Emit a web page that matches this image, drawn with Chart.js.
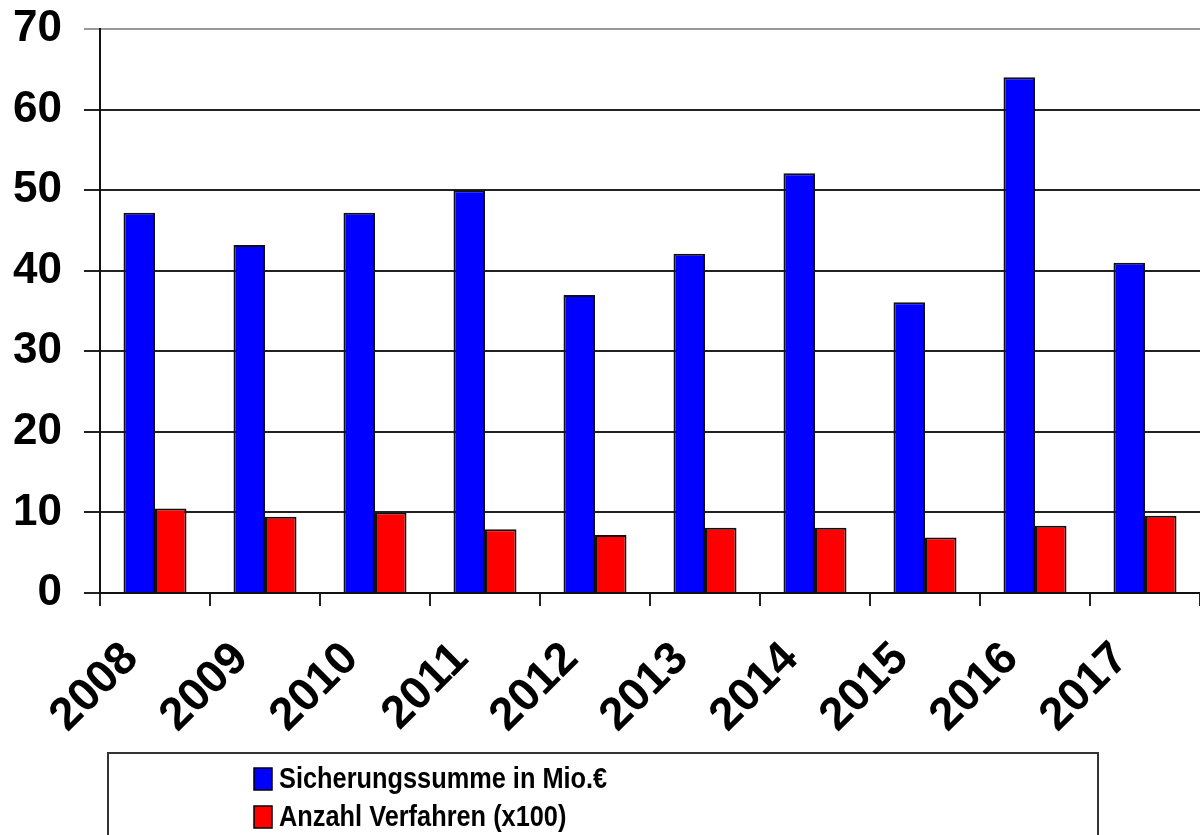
<!DOCTYPE html>
<html>
<head>
<meta charset="utf-8">
<title>Sicherungssumme und Verfahren</title>
<script src="https://cdn.jsdelivr.net/npm/chart.js@4.4.0/dist/chart.umd.min.js"></script>
<style>
  html, body { margin: 0; padding: 0; background: #fff; }
  #wrap { width: 1200px; height: 835px; position: relative; }
</style>
</head>
<body>
<div id="wrap"><canvas id="chart"></canvas></div>
<script>
// data
var years = ['2008', '2009', '2010', '2011', '2012', '2013', '2014', '2015', '2016', '2017'];
var sicherungssumme = [47.2, 43.2, 47.2, 50, 37, 42.1, 52.1, 36.1, 64, 41];
var verfahren = [10.5, 9.45, 10, 7.9, 7.2, 8.1, 8.1, 6.9, 8.35, 9.6];
var seriesLabels = ['Sicherungssumme in Mio.\u20ac', 'Anzahl Verfahren (x100)'];
var yMin = 0, yMax = 70, yStep = 10;

var fontFamily = '"Liberation Sans", Arial, sans-serif';

// legend box drawn by hand: Chart.js would put both items in one row
var boxLegend = {
  id: 'boxLegend',
  afterDraw: function (chart) {
    var ctx = chart.ctx;
    ctx.save();
    ctx.strokeStyle = '#333';
    ctx.lineWidth = 2;
    ctx.strokeRect(108, 753, 990, 120);
    ctx.font = 'bold 30px ' + fontFamily;
    ctx.textBaseline = 'middle';
    chart.data.datasets.forEach(function (ds, i) {
      var cy = 779 + i * 38;
      ctx.fillStyle = ds.backgroundColor;
      ctx.fillRect(254, cy - 11, 18, 22);
      ctx.strokeStyle = '#000';
      ctx.lineWidth = 1.5;
      ctx.strokeRect(254, cy - 11, 18, 22);
      ctx.fillStyle = '#000';
      var w = ctx.measureText(ds.label).width * 0.845;
      ctx.fillText(ds.label, 279, cy + 1, w);
    });
    ctx.restore();
  }
};

const ctx = document.getElementById('chart').getContext('2d');
const barChart = new Chart(ctx, {
  type: 'bar',
  data: {
    labels: years,
    datasets: [{
      label: seriesLabels[0],
      data: sicherungssumme,
      backgroundColor: '#0000ff',
      borderColor: '#111',
      borderWidth: 2,
      borderSkipped: 'bottom'
    },
    {
      label: seriesLabels[1],
      data: verfahren,
      backgroundColor: '#ff0000',
      borderColor: '#111',
      borderWidth: 2,
      borderSkipped: 'bottom'
    }]
  },
  options: {
    responsive: true,
    maintainAspectRatio: false,
    animation: false,
    categoryPercentage: 0.573,
    barPercentage: 1,
    layout: {
      padding: { top: 29, right: -2, bottom: 100, left: 0 }
    },
    plugins: {
      legend: { display: false },
      tooltip: { enabled: false }
    },
    scales: {
      x: {
        afterFit: function (s) {
          s.height = 142;
          s.paddingLeft = 0;
          s.paddingRight = 0;
        },
        grid: {
          offset: true,
          drawOnChartArea: false,
          drawTicks: true,
          tickLength: 13,
          color: '#222',
          lineWidth: 2
        },
        border: { display: true, color: '#111', width: 2 },
        ticks: {
          minRotation: 45,
          maxRotation: 45,
          padding: 26,
          labelOffset: -24,
          color: '#000',
          font: { family: fontFamily, size: 46, weight: 'bold' }
        }
      },
      y: {
        min: yMin,
        max: yMax,
        afterFit: function (s) {
          s.width = 100;
          s.paddingTop = 0;
          s.paddingBottom = 0;
        },
        grid: {
          color: function (c) { return c.tick && c.tick.value === yMax ? '#999' : '#222'; },
          lineWidth: 2,
          tickLength: 16
        },
        border: { display: true, color: '#111', width: 2 },
        ticks: {
          stepSize: yStep,
          padding: 22,
          color: '#000',
          font: { family: fontFamily, size: 44, weight: 'bold' }
        }
      }
    }
  },
  plugins: [boxLegend]
});
</script>
</body>
</html>
